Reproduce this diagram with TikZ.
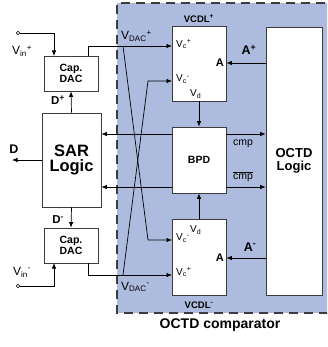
\documentclass[tikz,border=0pt]{standalone}
\usepackage{fontspec}
\setmainfont{Liberation Sans}
\usetikzlibrary{arrows.meta}
\definecolor{octdblue}{RGB}{173,187,222}
\definecolor{edge}{RGB}{60,60,60}
\newcommand{\fs}[1]{\fontsize{#1}{#1}\selectfont}
\begin{document}
\begin{tikzpicture}[x=1pt,y=-1pt,
  blk/.style={draw=edge, fill=white, line width=0.8pt, inner sep=0pt, font=\bfseries\fs{10.5}, align=center},
  arr/.style={-{Latex[length=5.5pt,width=4.5pt]}, line width=0.7pt, draw=black},
  lbl/.style={inner sep=0pt, font=\fs{10}},
  blbl/.style={inner sep=0pt, font=\bfseries\fs{12.5}},
  term/.style={circle, draw=black, fill=white, line width=0.6pt, inner sep=0pt, minimum size=3.5pt}]
\useasboundingbox (0,0) rectangle (327,347);
% comparator region
\begin{scope}
\clip (0,0) rectangle (327,347);
\fill[octdblue] (117,3) rectangle (340,313);
\draw[edge, line width=1.2pt, dash pattern=on 9pt off 6pt] (340,3) -- (117,3) -- (117,313) -- (340,313);
\end{scope}
\node[inner sep=0pt, font=\bfseries\fs{14}] (cmplabel) at (220,325) {OCTD comparator};
% blocks
\node[blk, minimum width=54pt, minimum height=35pt] (dacp) at (71,73.5) {Cap.\\DAC};
\node[blk, minimum width=54pt, minimum height=35pt] (dacn) at (71,245.5) {Cap.\\DAC};
\node[blk, minimum width=59pt, minimum height=94pt, font=\bfseries\fs{16.5}] (sar) at (71.5,160) {SAR\\[-1pt]Logic};
\node[blk, minimum width=54pt, minimum height=75pt] (vcdlp) at (199,63.5) {};
\node[blk, minimum width=54pt, minimum height=76pt] (vcdln) at (199,257) {};
\node[blk, minimum width=54pt, minimum height=66pt] (bpd) at (199,160) {BPD};
\node[blk, minimum width=56pt, minimum height=268pt, font=\bfseries\fs{13}] (octd) at (294,161) {OCTD\\Logic};
% block labels
\node[inner sep=0pt, font=\bfseries\fs{9.5}] (vcdlpl) at (199,19) {VCDL\textsuperscript{+}};
\node[inner sep=0pt, font=\bfseries\fs{9.5}] (vcdlnl) at (199,305) {VCDL\textsuperscript{-}};
\node[lbl, anchor=west] (vcpp) at (176,44) {V\textsubscript{c}\textsuperscript{+}};
\node[lbl, anchor=west] (vcpn) at (176,79) {V\textsubscript{c}\textsuperscript{-}};
\node[lbl, anchor=west] (vdp) at (190,94) {V\textsubscript{d}};
\node[lbl, anchor=west] (vdn) at (190,230) {V\textsubscript{d}};
\node[lbl, anchor=west] (vcnn) at (176,238) {V\textsubscript{c}\textsuperscript{-}};
\node[lbl, anchor=west] (vcnp) at (176,272) {V\textsubscript{c}\textsuperscript{+}};
\node[inner sep=0pt, anchor=east, font=\bfseries\fs{11}] (ap) at (224,63) {A};
\node[inner sep=0pt, anchor=east, font=\bfseries\fs{11}] (an) at (224,258) {A};
% terminals
\node[term] (inp) at (18,33) {};
\node[term] (inn) at (18,286) {};
\node[inner sep=0pt, font=\fs{12}] (vinp) at (22,51) {V\textsubscript{in}\textsuperscript{+}};
\node[inner sep=0pt, font=\fs{12}] (vinn) at (22,272) {V\textsubscript{in}\textsuperscript{-}};
\node[inner sep=0pt, anchor=west, font=\fs{12}] (vdacp) at (121,36) {V\textsubscript{DAC}\textsuperscript{+}};
\node[inner sep=0pt, anchor=west, font=\fs{12}] (vdacn) at (121,287) {V\textsubscript{DAC}\textsuperscript{-}};
% coordinates
\coordinate (ip) at (54,56);
\coordinate (in) at (54,263);
\coordinate (op) at (88,56);
\coordinate (on) at (88,263);
\coordinate (vcp1) at (172,46);
\coordinate (vcp2) at (172,81);
\coordinate (vcn1) at (172,240);
\coordinate (vcn2) at (172,275);
\coordinate (xa) at (123,46);
\coordinate (xb) at (148,240);
\coordinate (xc) at (123,275);
\coordinate (xd) at (148,81);
\coordinate (bl1) at (172,134);
\coordinate (bl2) at (172,187);
\coordinate (br1) at (226,134);
\coordinate (br2) at (226,187);
\coordinate (dout) at (12,160);
% connectors
\draw[arr] (inp.east) -| (ip);
\draw[arr] (inn.east) -| (in);
\draw[arr] (op) |- (vcp1);
\draw[arr] (on) |- (vcn2);
\draw[arr] (xa) -- (xb) -- (vcn1);
\draw[arr] (xc) -- (xd) -- (vcp2);
\draw[arr] (sar.north) -- (dacp.south);
\draw[arr] (sar.south) -- (dacn.north);
\draw[arr] (sar.west) -- (dout);
\draw[arr] (bl1) -- (sar.east |- bl1);
\draw[arr] (bl2) -- (sar.east |- bl2);
\draw[arr] (br1) -- (octd.west |- br1);
\draw[arr] (br2) -- (octd.west |- br2);
\draw[arr] (vcdlp.south) -- (bpd.north);
\draw[arr] (vcdln.north) -- (bpd.south);
\draw[arr] (octd.west |- ap) -- (vcdlp.east |- ap);
\draw[arr] (octd.west |- an) -- (vcdln.east |- an);
% signal labels
\node[blbl] (dl) at (14,149) {D};
\node[inner sep=0pt, font=\bfseries\fs{11.5}] (dpl) at (58,100) {D\textsuperscript{+}};
\node[inner sep=0pt, font=\bfseries\fs{11.5}] (dnl) at (58,220) {D\textsuperscript{-}};
\node[blbl] (apl) at (249,50) {A\textsuperscript{+}};
\node[blbl] (anl) at (250,247) {A\textsuperscript{-}};
\node[lbl, font=\fs{10.5}] (cmpl) at (243,144) {cmp};
\node[lbl, font=\fs{10.5}] (cmpb) at (243,177) {$\overline{\mbox{cmp}}$};
\end{tikzpicture}
\end{document}
